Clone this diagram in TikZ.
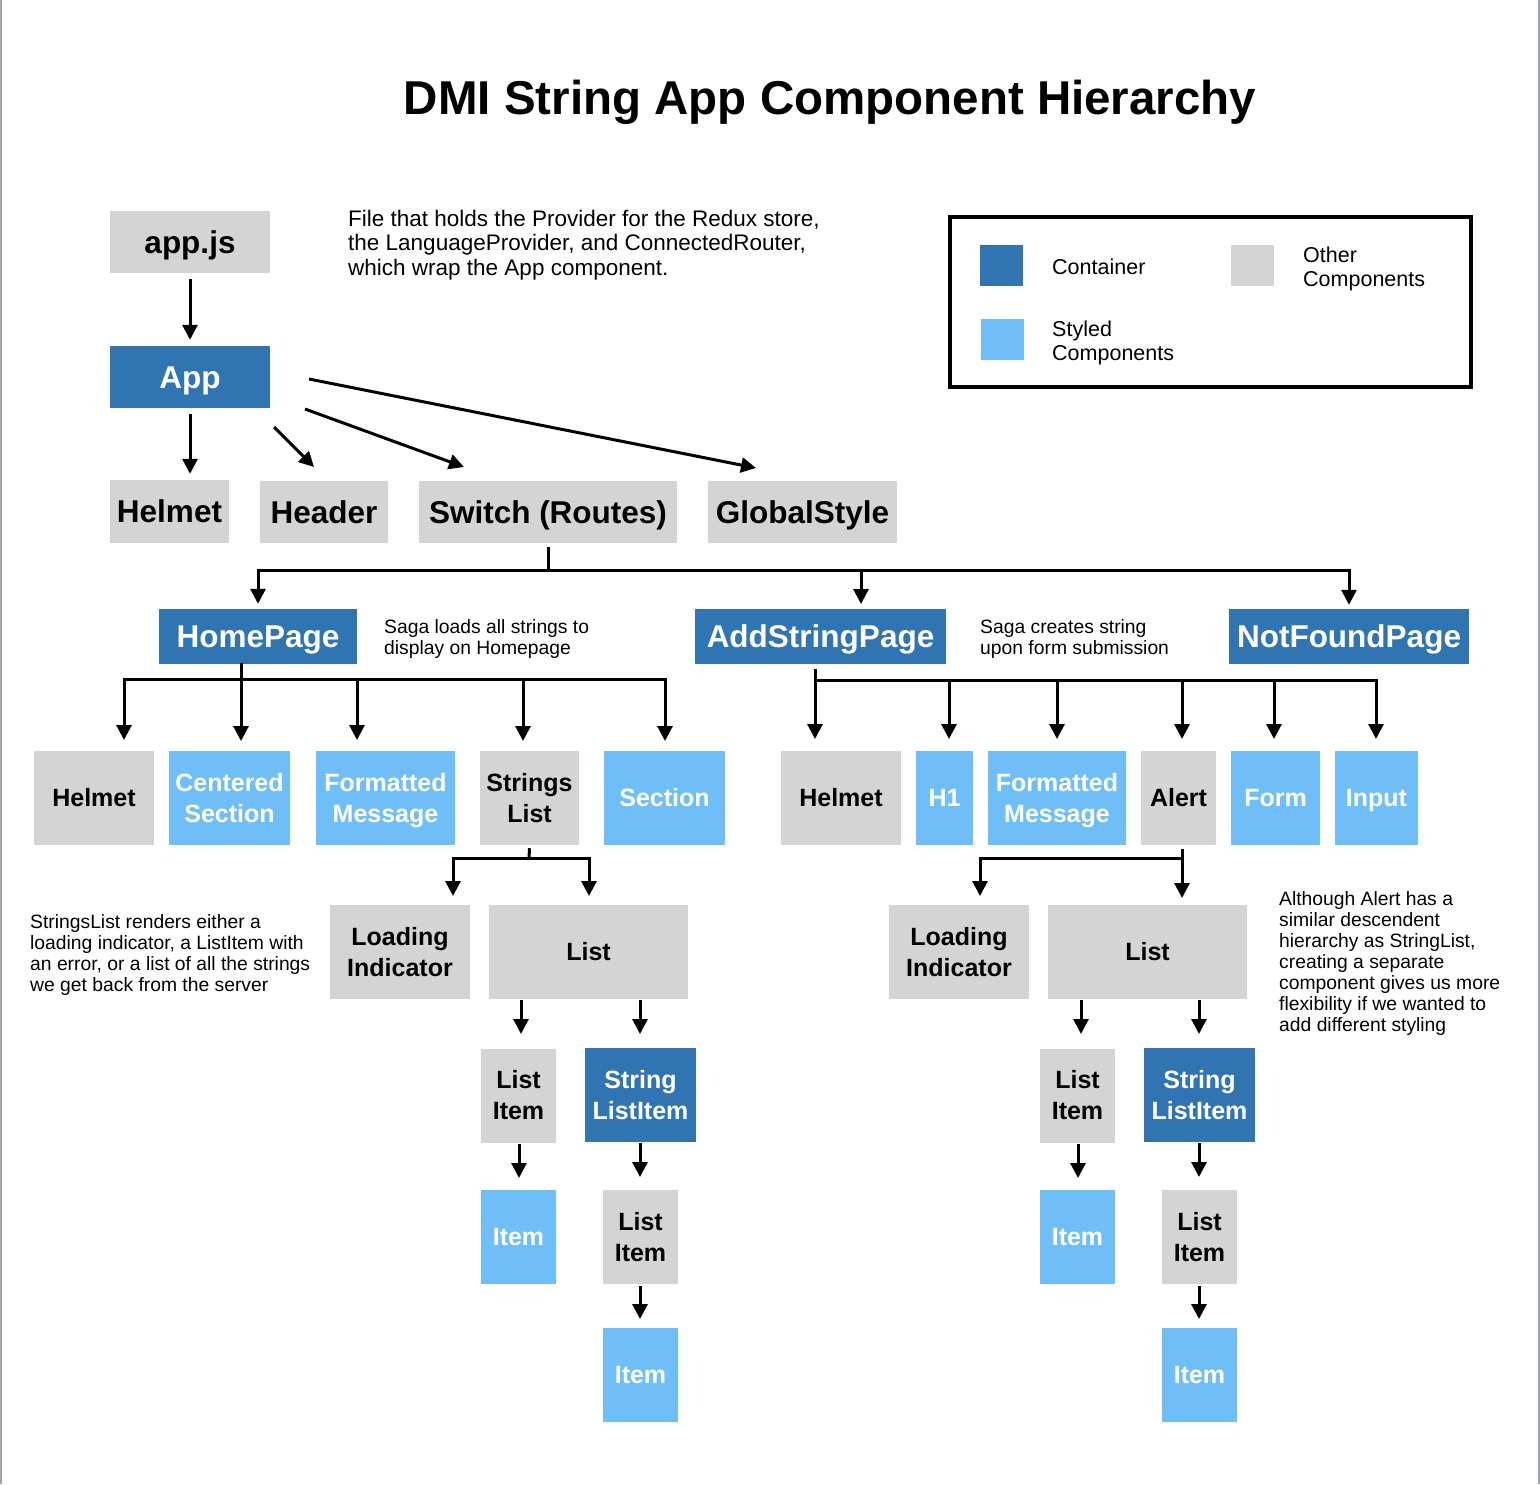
\documentclass[tikz,border=0pt]{standalone}
\usepackage{fontspec}
\setmainfont{Liberation Sans}
\usetikzlibrary{arrows.meta,calc}
\definecolor{cdark}{RGB}{49,116,178}
\definecolor{clight}{RGB}{112,190,248}
\definecolor{cgray}{RGB}{212,212,212}
\definecolor{cframe}{RGB}{160,164,172}
\tikzset{
  bx/.style={inner sep=0pt, align=center, font=\fontsize{25}{31}\selectfont\bfseries},
  one/.style={text height=19pt, text depth=1.1pt},
  bigbx/.style={inner sep=0pt, align=center, text height=24pt, text depth=1.5pt, font=\fontsize{31.5}{36}\selectfont\bfseries},
  dark/.style={fill=cdark, text=white},
  light/.style={fill=clight, text=white},
  grey/.style={fill=cgray, text=black},
  ln/.style={line width=3pt},
  arr/.style={line width=3pt, -{Triangle[length=15pt,width=15pt]}},
  note/.style={inner sep=0pt, align=left, anchor=west, font=\fontsize{19.3}{21}\selectfont},
  legtxt/.style={inner sep=0pt, align=left, anchor=west, font=\fontsize{21.5}{24}\selectfont},
  swatch/.style={inner sep=0pt, minimum width=43pt, minimum height=41pt},
}
\begin{document}
\begin{tikzpicture}[x=1pt,y=-1pt]
\useasboundingbox (0,0) rectangle (1540,1484);
\draw[cframe, line width=2pt] (1,0) -- (1,1484);
\draw[cframe, line width=2pt] (1539,0) -- (1539,1484);

% title
\node[inner sep=0pt, anchor=base, font=\fontsize{47.5}{55}\selectfont\bfseries] (title) at (830,114) {DMI String App Component Hierarchy};

% top level
\node[bigbx, grey, minimum width=160pt, minimum height=62pt] (appjs) at (190,242) {app.js};
\node[bigbx, dark, minimum width=160pt, minimum height=62pt] (app) at (190,377) {App};
\node[bigbx, grey, minimum width=119pt, minimum height=63pt] (helmet0) at (169.5,511.5) {Helmet};
\node[bigbx, grey, minimum width=128pt, minimum height=62pt] (header) at (324,512) {Header};
\node[bigbx, grey, minimum width=258pt, minimum height=62pt] (switch) at (548,512) {Switch (Routes)};
\node[bigbx, grey, minimum width=189pt, minimum height=62pt] (global) at (802.5,512) {GlobalStyle};

\node[note, font=\fontsize{22.5}{24.5}\selectfont] (filenote) at (348,245) {File that holds the Provider for the Redux store,\\the LanguageProvider, and ConnectedRouter,\\which wrap the App component.};

% legend
\node[draw, line width=4pt, inner sep=0pt, minimum width=521pt, minimum height=170pt] (legend) at (1210.5,302) {};
\node[swatch, fill=cdark] (swc) at (1001.5,265.5) {};
\node[swatch, fill=cgray] (swo) at (1252.5,265.5) {};
\node[swatch, fill=clight] (sws) at (1002.5,339.5) {};
\node[legtxt] (lc) at (1052,267) {Container};
\node[legtxt] (lo) at (1303,268.5) {Other\\Components};
\node[legtxt] (ls) at (1052,342.5) {Styled\\Components};

% pages
\node[bigbx, dark, minimum width=198pt, minimum height=55pt] (home) at (258,636.5) {HomePage};
\node[bigbx, dark, minimum width=251pt, minimum height=55pt] (add) at (820.5,636.5) {AddStringPage};
\node[bigbx, dark, minimum width=240pt, minimum height=55pt] (notfound) at (1349,636.5) {NotFoundPage};
\node[note] (n1) at (384,639) {Saga loads all strings to\\display on Homepage};
\node[note] (n2) at (980,639) {Saga creates string\\upon form submission};

% row 1
\node[bx, one, grey, minimum width=120pt, minimum height=94pt] (hl1) at (94,798) {Helmet};
\node[bx, light, minimum width=121pt, minimum height=94pt] (cs) at (229.5,798) {Centered\\Section};
\node[bx, light, minimum width=139pt, minimum height=94pt] (fm1) at (385.5,798) {Formatted\\\smash{Message}};
\node[bx, grey, minimum width=99pt, minimum height=94pt] (sl) at (529.5,798) {Strings\\List};
\node[bx, one, light, minimum width=121pt, minimum height=94pt] (sec) at (664.5,798) {Section};
\node[bx, one, grey, minimum width=120pt, minimum height=94pt] (hl2) at (841,798) {Helmet};
\node[bx, one, light, minimum width=57pt, minimum height=94pt] (hone) at (944.5,798) {H1};
\node[bx, light, minimum width=138pt, minimum height=94pt] (fm2) at (1057,798) {Formatted\\\smash{Message}};
\node[bx, one, grey, minimum width=75pt, minimum height=94pt] (alert) at (1178.5,798) {Alert};
\node[bx, one, light, minimum width=89pt, minimum height=94pt] (form) at (1275.5,798) {Form};
\node[bx, one, light, minimum width=83pt, minimum height=94pt] (input) at (1376.5,798) {Input};

% row 2
\node[bx, grey, minimum width=140pt, minimum height=94pt] (ld1) at (400,952) {Loading\\Indicator};
\node[bx, one, grey, minimum width=199pt, minimum height=94pt] (list1) at (588.5,952) {List};
\node[bx, grey, minimum width=140pt, minimum height=94pt] (ld2) at (959,952) {Loading\\Indicator};
\node[bx, one, grey, minimum width=199pt, minimum height=94pt] (list2) at (1147.5,952) {List};
\node[note] (n3) at (30,954.5) {StringsList renders either a\\loading indicator, a ListItem with\\an error, or a list of all the strings\\we get back from the server};
\node[note] (n4) at (1279,963) {Although Alert has a\\similar descendent\\hierarchy as StringList,\\creating a separate\\component gives us more\\flexibility if we wanted to\\add different styling};

% row 3
\node[bx, grey, minimum width=75pt, minimum height=94pt] (lia) at (518.5,1095.5) {List\\Item};
\node[bx, dark, minimum width=111pt, minimum height=94pt] (slia) at (640.5,1095) {String\\ListItem};
\node[bx, grey, minimum width=75pt, minimum height=94pt] (lib) at (1077.5,1095.5) {List\\Item};
\node[bx, dark, minimum width=111pt, minimum height=94pt] (slib) at (1199.5,1095) {String\\ListItem};

% row 4
\node[bx, one, light, minimum width=75pt, minimum height=94pt] (ita) at (518.5,1237) {Item};
\node[bx, grey, minimum width=75pt, minimum height=94pt] (lia2) at (640.5,1237) {List\\Item};
\node[bx, one, light, minimum width=75pt, minimum height=94pt] (itb) at (1077.5,1237) {Item};
\node[bx, grey, minimum width=75pt, minimum height=94pt] (lib2) at (1199.5,1237) {List\\Item};

% row 5
\node[bx, one, light, minimum width=75pt, minimum height=94pt] (ita2) at (640.5,1375) {Item};
\node[bx, one, light, minimum width=75pt, minimum height=94pt] (itb2) at (1199.5,1375) {Item};

% connectors: top
\draw[arr, shorten <=6pt, shorten >=6pt] (appjs) -- (app);
\draw[arr, shorten <=6pt, shorten >=6pt] (app.south) -- (app.south |- helmet0.north);
\coordinate (a1s) at (274,427); \coordinate (a1e) at (314,467);
\coordinate (a2s) at (305,409); \coordinate (a2e) at (464,467);
\coordinate (a3s) at (309,379); \coordinate (a3e) at (756,468);
\draw[arr] (a1s) -- (a1e);
\draw[arr] (a2s) -- (a2e);
\draw[arr] (a3s) -- (a3e);

% switch bus
\coordinate (swbus) at (548,570);
\draw[ln] ($(switch.south)+(0,4)$) -- (swbus);
\draw[arr, shorten >=5pt] (swbus) -| (home.north);
\draw[arr, shorten >=4pt] (swbus) -| (notfound.north);
\draw[arr] (861,570) -- (861,604);

% homepage bus
\draw[arr] (241,663) -- (241,741);
\draw[arr] (241,679) -| (124,740);
\draw[arr] (241,679) -| (665,741);
\draw[arr] (357,679) -- (357,740);
\draw[arr] (523,679) -- (523,741);

% addstringpage bus
\draw[arr] (815,669) -- (815,739);
\draw[arr] (815,680) -| (1376,739);
\draw[arr] (949,680) -- (949,739);
\draw[arr] (1057,680) -- (1057,739);
\draw[arr] (1182,680) -- (1182,739);
\draw[arr] (1274,680) -- (1274,739);

% strings list bus
\draw[ln] ($(sl.south)+(0,3)$) -- (529,858);
\draw[arr] (529,858) -| (453,896);
\draw[arr] (529,858) -| (589,896);

% alert bus
\draw[arr] (1182,849) -- (1182,898);
\draw[arr] (1182,858) -| (980,896);

% lower arrows left
\draw[arr] (521,1000) -- (521,1034);
\draw[arr] (640,1000) -- (640,1034);
\draw[arr] (519,1144) -- (519,1178);
\draw[arr] (640,1143) -- (640,1177);
\draw[arr] (640,1286) -- (640,1319);
% lower arrows right
\draw[arr] (1081,1000) -- (1081,1034);
\draw[arr] (1199,1000) -- (1199,1034);
\draw[arr] (1078,1144) -- (1078,1178);
\draw[arr] (1199,1143) -- (1199,1177);
\draw[arr] (1199,1286) -- (1199,1319);
\end{tikzpicture}
\end{document}
